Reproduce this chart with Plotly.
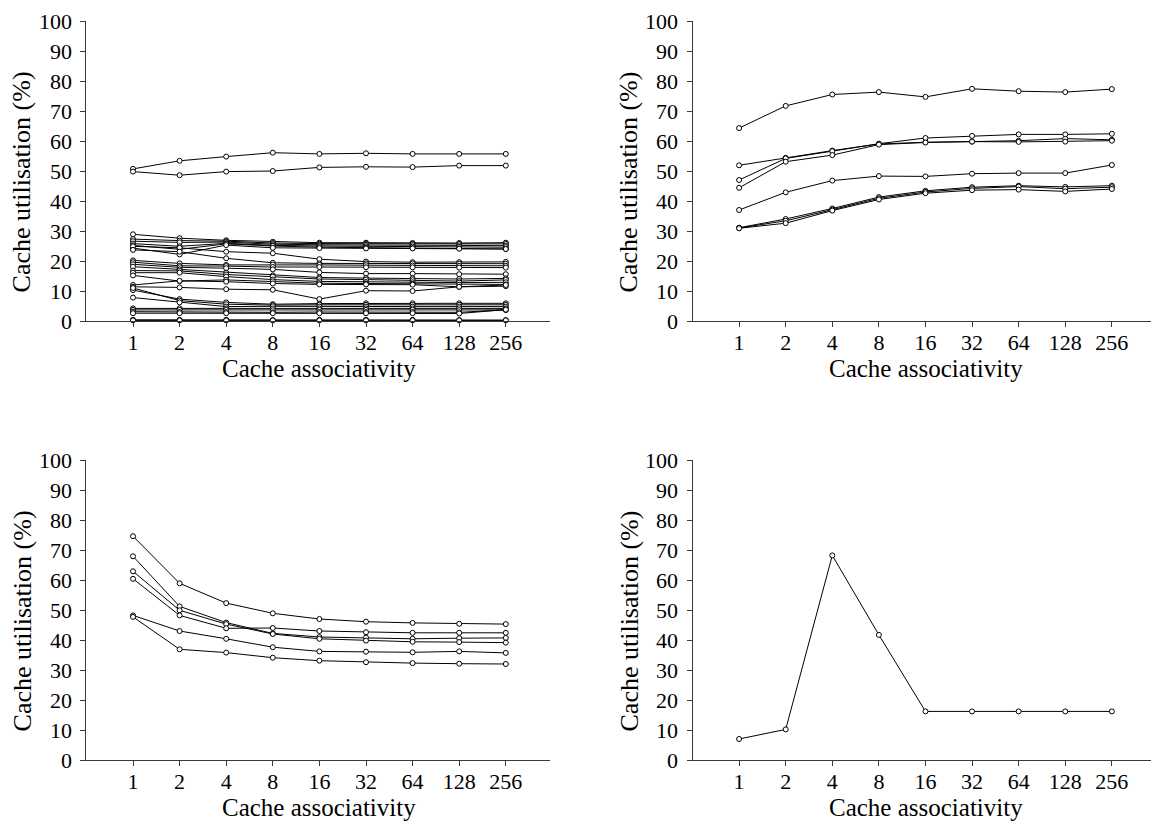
import plotly.graph_objects as go

# Associativity levels shown on every panel
assoc_labels = ["1", "2", "4", "8", "16", "32", "64", "128", "256"]
assoc_pos = list(range(1, 10))

# Panel (a): many benchmarks, utilisation per associativity
util_a = [
    [50.7, 53.4, 54.8, 56.1, 55.7, 55.9, 55.7, 55.7, 55.7],
    [49.8, 48.6, 49.8, 50.0, 51.2, 51.4, 51.3, 51.8, 51.8],
    [28.9, 27.6, 26.9, 26.4, 26.1, 26.1, 26.0, 26.0, 26.1],
    [27.3, 26.8, 26.6, 26.0, 25.8, 25.8, 25.7, 25.7, 25.7],
    [26.6, 26.2, 26.3, 25.6, 25.4, 25.4, 25.3, 25.2, 25.1],
    [25.8, 24.9, 25.9, 25.2, 25.0, 24.9, 24.8, 24.7, 24.6],
    [25.2, 23.9, 25.7, 25.0, 24.6, 24.5, 24.3, 24.2, 24.0],
    [24.3, 22.2, 25.3, 24.4, 24.3, 24.2, 24.2, 24.1, 24.0],
    [24.9, 24.4, 23.1, 22.6, 20.6, 19.8, 19.6, 19.6, 19.7],
    [23.7, 23.1, 20.9, 19.4, 19.2, 19.2, 19.2, 19.1, 19.1],
    [20.2, 19.2, 18.7, 18.8, 18.7, 18.6, 18.5, 18.4, 18.4],
    [19.6, 18.4, 18.3, 18.0, 18.0, 17.9, 17.9, 17.8, 17.8],
    [18.9, 17.9, 17.6, 17.2, 16.2, 15.8, 15.8, 15.6, 15.6],
    [18.1, 17.2, 16.1, 15.2, 14.5, 14.3, 14.2, 14.0, 14.2],
    [16.8, 16.7, 15.5, 14.8, 14.0, 13.8, 13.6, 13.3, 13.7],
    [16.1, 16.1, 14.8, 13.8, 13.2, 13.0, 12.9, 12.8, 12.9],
    [15.2, 13.3, 13.7, 13.2, 12.6, 12.5, 12.4, 12.1, 12.2],
    [12.0, 13.4, 13.1, 12.5, 12.2, 12.2, 12.1, 11.4, 11.6],
    [11.4, 11.2, 10.6, 10.4, 7.3, 10.1, 10.0, 11.4, 12.0],
    [10.3, 7.3, 6.2, 5.6, 5.8, 5.9, 5.9, 5.9, 5.9],
    [11.0, 6.8, 5.6, 5.3, 5.4, 5.4, 5.4, 5.4, 5.4],
    [7.8, 6.2, 4.8, 4.9, 4.8, 4.8, 4.8, 4.8, 4.8],
    [4.2, 4.2, 4.2, 4.2, 4.2, 4.2, 4.2, 4.2, 4.2],
    [3.7, 3.7, 3.7, 3.6, 3.7, 3.7, 3.7, 3.6, 3.7],
    [3.1, 3.0, 3.0, 2.9, 3.0, 3.0, 3.0, 2.9, 3.7],
    [2.6, 2.6, 2.6, 2.6, 2.6, 2.6, 2.6, 2.5, 3.8],
    [0.4, 0.4, 0.4, 0.3, 0.4, 0.4, 0.4, 0.3, 0.3],
    [0.2, 0.2, 0.2, 0.2, 0.2, 0.2, 0.2, 0.2, 0.2],
]

# Panel (b)
util_b = [
    [64.3, 71.7, 75.5, 76.3, 74.7, 77.4, 76.6, 76.3, 77.3],
    [51.9, 54.4, 56.8, 59.0, 59.6, 59.8, 60.1, 60.8, 60.4],
    [47.0, 54.2, 56.6, 59.1, 61.0, 61.7, 62.2, 62.2, 62.4],
    [44.4, 53.1, 55.3, 58.8, 59.5, 59.8, 59.7, 59.8, 60.1],
    [37.0, 42.9, 46.8, 48.3, 48.2, 49.1, 49.3, 49.3, 52.0],
    [31.1, 34.0, 37.5, 41.3, 43.4, 44.6, 45.1, 44.7, 45.1],
    [31.0, 33.4, 37.1, 40.9, 43.0, 44.2, 44.8, 44.1, 44.6],
    [30.9, 32.6, 36.8, 40.5, 42.6, 43.6, 43.8, 43.2, 44.0],
]

# Panel (c)
util_c = [
    [74.6, 58.9, 52.3, 48.9, 47.0, 46.1, 45.7, 45.4, 45.3],
    [67.9, 51.2, 45.8, 42.2, 41.0, 40.8, 40.4, 40.6, 40.7],
    [62.9, 49.9, 45.3, 42.0, 40.4, 39.8, 39.4, 39.3, 39.1],
    [60.4, 48.2, 43.9, 44.0, 43.0, 42.6, 42.4, 42.4, 42.4],
    [48.2, 43.0, 40.4, 37.6, 36.2, 36.1, 35.9, 36.2, 35.7],
    [47.7, 36.9, 35.8, 34.1, 33.1, 32.6, 32.3, 32.1, 32.0],
]

# Panel (d)
util_d = [
    [7.0, 10.2, 68.2, 41.7, 16.2, 16.2, 16.2, 16.2, 16.2],
]

W, H = 1151, 821
FONT = "Liberation Serif"
AXIS_COLOR = "#3a3a3a"

# Pixel geometry of each panel: (x of y-axis, x range end, y of 0, y of 100)
panels = [
    dict(data=util_a, x0=86.4, xend=9.95, ybot=321, ytop=21),
    dict(data=util_b, x0=692.5, xend=9.84, ybot=321, ytop=21),
    dict(data=util_c, x0=86.4, xend=9.95, ybot=760, ytop=460),
    dict(data=util_d, x0=692.5, xend=9.84, ybot=760, ytop=460),
]
unit_px = 46.6

fig = go.Figure()
annotations = []
shapes = []

for i, p in enumerate(panels, start=1):
    xa = "x" if i == 1 else f"x{i}"
    ya = "y" if i == 1 else f"y{i}"
    for series in p["data"]:
        fig.add_trace(go.Scatter(
            x=assoc_pos, y=series, xaxis=xa, yaxis=ya,
            mode="lines+markers", cliponaxis=False, showlegend=False,
            line=dict(color="black", width=1),
            marker=dict(symbol="circle", size=5, color="white",
                        line=dict(color="black", width=1)),
        ))

    dx0 = p["x0"] / W
    dx1 = min(1.0, (p["x0"] + p["xend"] * unit_px) / W)
    dy0 = 1 - p["ybot"] / H
    dy1 = 1 - p["ytop"] / H
    xkey = "xaxis" if i == 1 else f"xaxis{i}"
    ykey = "yaxis" if i == 1 else f"yaxis{i}"
    fig.update_layout(**{
        xkey: dict(
            domain=[dx0, dx1], range=[0, p["xend"]], anchor=ya,
            automargin=False,
            tickmode="array", tickvals=assoc_pos, ticktext=assoc_labels,
            showline=True, linecolor=AXIS_COLOR, linewidth=1,
            ticks="outside", ticklen=5, tickcolor=AXIS_COLOR,
            ticklabelstandoff=-3,
            showgrid=False, zeroline=False,
            tickfont=dict(family=FONT, size=22, color="black"),
        ),
        ykey: dict(
            domain=[dy0, dy1], range=[0, 100], anchor=xa,
            automargin=False,
            tickmode="array", tickvals=list(range(0, 101, 10)),
            showline=True, linecolor=AXIS_COLOR, linewidth=1,
            ticks="outside", ticklen=5, tickcolor=AXIS_COLOR,
            ticklabelstandoff=4,
            showgrid=False, zeroline=False,
            tickfont=dict(family=FONT, size=22, color="black"),
        ),
    })

    # short extension of the x-axis line under the y tick marks
    shapes.append(dict(
        type="line", xref=xa, yref=ya, xsizemode="pixel", xanchor=0,
        x0=-5, x1=0, y0=0, y1=0,
        line=dict(color=AXIS_COLOR, width=1),
    ))

    cx = (p["x0"] + 5 * unit_px) / W
    annotations.append(dict(
        text="Cache associativity", xref="paper", yref="paper",
        x=cx, y=1 - (p["ybot"] + 47) / H, xanchor="center", yanchor="middle",
        borderpad=0,
        showarrow=False, font=dict(family=FONT, size=25, color="black"),
    ))
    annotations.append(dict(
        text="Cache utilisation (%)", xref="paper", yref="paper",
        x=(p["x0"] - 64) / W, y=1 - (p["ytop"] + 161) / H,
        xanchor="center", yanchor="middle", textangle=-90,
        borderpad=0,
        showarrow=False, font=dict(family=FONT, size=26, color="black"),
    ))

fig.update_layout(
    width=W, height=H,
    margin=dict(l=0, r=0, t=0, b=0, autoexpand=False),
    paper_bgcolor="white", plot_bgcolor="white",
    annotations=annotations, shapes=shapes,
    font=dict(family=FONT, color="black"),
)

fig.write_html("out.html", config={"displayModeBar": False})
